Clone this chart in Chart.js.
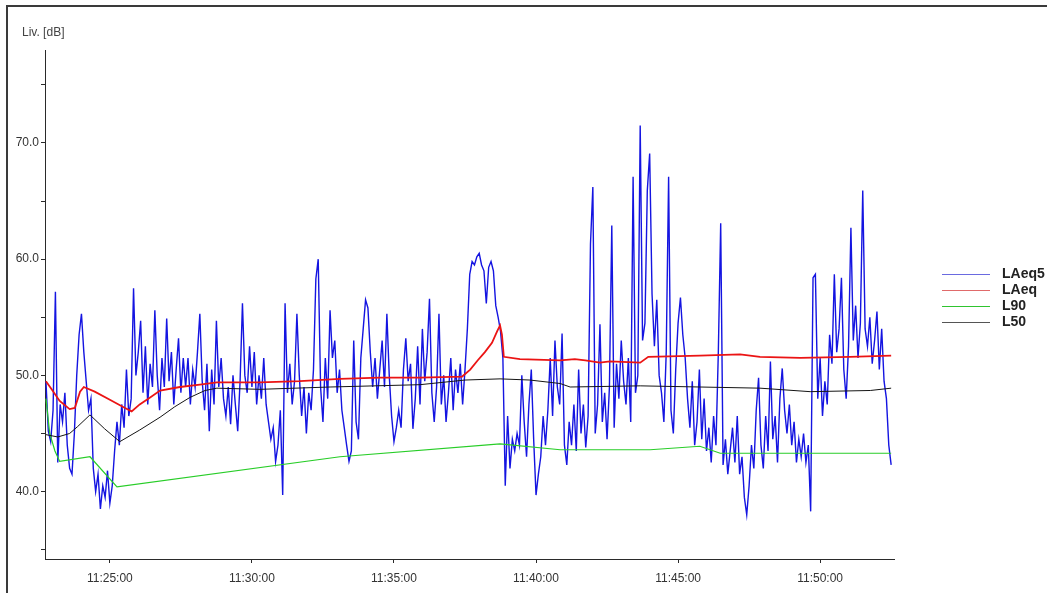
<!DOCTYPE html>
<html>
<head>
<meta charset="utf-8">
<script src="https://cdn.jsdelivr.net/npm/chart.js@4"></script>
<style>
  body { margin: 0; background: #fff; }
  #wrap { position: relative; width: 1047px; height: 593px; overflow: hidden; background: #fff; }
  #frame { position: absolute; left: 6px; top: 5px; width: 1100px; height: 600px;
           border-left: 2px solid #3a3a3a; border-top: 2px solid #3a3a3a; }
  #ytitle { position: absolute; left: 22px; top: 25px; font: 12px 'Liberation Sans', sans-serif; color: #444; }
  #legend { position: absolute; left: 942px; top: 265px; font: bold 14px 'Liberation Sans', sans-serif; color: #222; }
  #legend div { height: 16px; line-height: 16px; white-space: nowrap; }
  #legend span.ln { display: inline-block; width: 48px; height: 0; vertical-align: middle; margin-right: 12px; }
  canvas { position: absolute; left: 0; top: 0; }
</style>
</head>
<body>
<div id="wrap">
  <div id="frame"></div>
  <canvas id="noiseChart" width="1047" height="593"></canvas>
  <div id="ytitle">Liv. [dB]</div>
  <div id="legend"></div>
</div>
<script>
// ===============================
// data
// ===============================
// LAeq5: one value every 5 s, starting at 11:22:45
const laeq5Start = "11:22:45";
const laeq5Step = 5;
const laeq5 = [
  49.5, 45.2, 44.3, 47.0, 57.2,  42.5, 47.5, 46.0, 48.5, 44.0,
  42.0, 41.5, 45.0, 50.0, 53.5,  55.3, 52.0, 49.5, 47.0, 48.0,
  42.0, 40.0, 41.5, 38.5, 40.5,  39.5, 41.8, 39.0, 40.5, 43.5,
  46.0, 44.0, 47.5, 45.5, 50.5,  46.5, 48.0, 57.5, 50.0, 52.0,
  54.7, 48.5, 52.5, 47.5, 51.0,  49.0, 55.6, 50.0, 47.0, 51.5,
  49.0, 54.9, 49.5, 52.0, 47.5,  50.5, 53.2, 48.5, 51.5, 49.0,
  51.5, 47.5, 50.5, 49.0, 52.0,  55.3, 49.5, 47.0, 51.0, 45.2,
  50.5, 47.5, 54.7, 49.0, 51.5,  48.0, 46.5, 49.0, 45.8, 50.0,
  47.5, 45.2, 49.5, 56.2, 50.0,  48.5, 52.5, 49.0, 52.0, 47.5,
  50.0, 48.0, 51.5, 47.5, 46.0,  44.5, 45.5, 42.6, 44.0, 47.0,
  39.7, 56.2, 48.5, 51.0, 47.5,  49.5, 55.3, 50.0, 46.5, 49.0,
  45.0, 48.5, 47.0, 50.5, 58.3,  60.0, 49.0, 46.0, 51.5, 48.0,
  55.6, 51.5, 53.0, 48.5, 50.5,  47.0, 45.5, 44.0, 42.6, 43.5,
  53.0, 46.0, 44.5, 51.5, 54.0,  56.5, 55.8, 52.0, 49.0, 51.5,
  48.0, 50.5, 53.0, 49.0, 55.3,  50.0, 46.5, 44.3, 45.5, 47.0,
  45.5, 50.5, 53.2, 49.5, 51.0,  45.4, 48.0, 52.5, 47.5, 54.0,
  49.5, 52.0, 56.6, 48.5, 46.0,  49.0, 55.3, 47.5, 50.0, 46.0,
  48.5, 51.5, 47.0, 50.5, 48.5,  51.0, 47.5, 50.5, 54.0, 58.7,
  59.8, 59.5, 60.2, 60.5, 59.5,  59.0, 56.2, 59.3, 59.8, 59.0,
  56.0, 55.0, 53.8, 51.5, 40.5,  46.5, 42.0, 44.5, 43.5, 45.0,
  44.0, 50.0, 46.0, 43.0, 47.5,  50.5, 44.5, 39.7, 41.5, 43.0,
  46.5, 44.0, 47.0, 51.5, 46.5,  53.0, 49.0, 47.5, 53.6, 44.0,
  42.3, 46.0, 44.0, 47.5, 43.5,  50.5, 45.0, 47.5, 43.8, 46.5,
  61.3, 66.2, 45.0, 47.5, 54.4,  46.0, 48.5, 44.5, 49.0, 62.9,
  45.5, 51.0, 48.0, 53.0, 49.5,  47.5, 51.5, 46.0, 67.1, 48.5,
  50.0, 71.5, 53.0, 54.5, 65.9,  69.1, 57.0, 52.5, 56.5, 50.0,
  48.5, 46.0, 52.0, 67.1, 47.0,  45.0, 50.5, 54.5, 56.7, 53.5,
  51.5, 48.0, 45.5, 49.5, 44.0,  46.0, 50.5, 44.5, 48.0, 43.5,
  45.5, 42.5, 46.5, 44.0, 52.0,  63.1, 42.3, 44.5, 41.5, 43.5,
  45.5, 42.5, 46.5, 41.5, 43.0,  39.5, 38.0, 40.5, 44.0, 42.0,
  47.0, 49.8, 44.0, 42.0, 46.5,  43.5, 51.2, 44.5, 46.5, 42.5,
  48.0, 50.6, 47.0, 45.0, 47.5,  44.0, 46.0, 42.5, 44.5, 43.0,
  45.0, 42.5, 44.0, 38.3, 58.4,  58.7, 48.0, 51.5, 46.5, 49.5,
  47.5, 53.5, 51.0, 58.7, 52.0,  54.0, 58.4, 50.5, 48.0, 52.5,
  62.7, 53.0, 56.0, 51.5, 54.5,  65.9, 54.0, 52.5, 55.0, 51.0,
  53.0, 55.5, 50.5, 54.0, 49.5,  48.0, 44.0, 42.3
];

// LAeq (running average)
const laeqTimes = [
  "11:22:45", "11:22:57", "11:23:14", "11:23:35", "11:23:46", "11:23:57", "11:24:05", "11:24:28",
  "11:25:00", "11:25:32", "11:25:46", "11:26:03", "11:26:25", "11:26:46", "11:27:28", "11:28:10",
  "11:28:46", "11:30:17", "11:31:41", "11:33:06", "11:34:30", "11:35:55", "11:37:24", "11:37:41",
  "11:37:57", "11:38:12", "11:38:27", "11:38:38", "11:38:44", "11:38:48", "11:38:52", "11:39:26",
  "11:40:51", "11:41:22", "11:41:44", "11:42:15", "11:42:36", "11:43:40", "11:43:57", "11:45:46",
  "11:47:11", "11:47:53", "11:49:18", "11:51:03", "11:52:30"
];
const laeq = [
  49.5, 48.8, 47.8, 47.1, 47.2, 48.6, 49.0, 48.6,
  47.9, 47.2, 46.9, 47.5, 48.1, 48.7, 49.0, 49.2,
  49.4, 49.4, 49.5, 49.7, 49.8, 49.8, 49.9, 50.5,
  51.3, 52.0, 52.8, 53.8, 54.3, 53.5, 51.6, 51.4,
  51.3, 51.4, 51.3, 51.1, 51.2, 51.1, 51.6, 51.7,
  51.8, 51.6, 51.5, 51.6, 51.7
];

// L50
const l50Times = [
  "11:22:45", "11:23:10", "11:23:35", "11:23:52", "11:24:18", "11:24:49", "11:25:21", "11:26:03",
  "11:26:46", "11:27:17", "11:27:49", "11:28:21", "11:28:46", "11:30:17", "11:32:45", "11:35:55",
  "11:37:30", "11:38:44", "11:39:47", "11:40:51", "11:41:12", "11:43:40", "11:45:46", "11:47:53",
  "11:49:39", "11:51:46", "11:52:30"
];
const l50 = [
  44.9, 44.7, 45.0, 45.6, 46.6, 45.4, 44.3, 45.3,
  46.4, 47.3, 48.1, 48.7, 48.9, 48.8, 49.0, 49.2,
  49.6, 49.7, 49.6, 49.3, 49.0, 49.1, 49.0, 48.9,
  48.6, 48.7, 48.9
];

// L90
const l90Times = [
  "11:22:45", "11:22:53", "11:23:04", "11:23:14", "11:24:18", "11:25:15", "11:33:06",
  "11:38:44", "11:40:51", "11:44:01", "11:45:46", "11:46:29", "11:52:30"
];
const l90 = [48.0, 45.0, 43.5, 42.6, 43.0, 40.4, 43.0, 44.1, 43.6, 43.6, 43.9, 43.3, 43.3];

const yTicks = [35, 40, 45, 50, 55, 60, 65, 70, 75];
const xTicks = ["11:25:00", "11:30:00", "11:35:00", "11:40:00", "11:45:00", "11:50:00"];
const xFrom = "11:22:43";
const xTo = "11:52:36";

// ===============================
// helpers
// ===============================
function toSec(t) {
  const p = t.split(":").map(Number);
  return p[0] * 3600 + p[1] * 60 + p[2];
}
function toClock(s) {
  const h = Math.floor(s / 3600), m = Math.floor((s % 3600) / 60), sec = s % 60;
  return h + ":" + String(m).padStart(2, "0") + ":" + String(sec).padStart(2, "0");
}
function pairs(times, vals) {
  return vals.map((v, i) => ({ x: toSec(times[i]), y: v }));
}

const t0 = toSec(laeq5Start);
const laeq5Points = laeq5.map((v, i) => ({ x: t0 + i * laeq5Step, y: v }));

const series = [
  { label: "LAeq5", data: laeq5Points, color: "rgb(20,20,225)", legend: "#6a6ae0", width: 1.4, order: 4 },
  { label: "LAeq", data: pairs(laeqTimes, laeq), color: "rgb(235,20,20)", legend: "#e06a6a", width: 1.8, order: 1 },
  { label: "L90", data: pairs(l90Times, l90), color: "rgb(40,205,40)", legend: "#2fc42f", width: 1.2, order: 3 },
  { label: "L50", data: pairs(l50Times, l50), color: "rgb(20,20,20)", legend: "#555", width: 1, order: 2 }
];

const fontFam = "'Liberation Sans', sans-serif";

// ===============================
// chart
// ===============================
new Chart(document.getElementById("noiseChart"), {
  type: "line",
  data: {
    datasets: series.map(s => ({
      label: s.label,
      data: s.data,
      borderColor: s.color,
      borderWidth: s.width,
      pointRadius: 0,
      tension: 0,
      fill: false,
      order: s.order
    }))
  },
  options: {
    responsive: false,
    animation: false,
    devicePixelRatio: 1,
    layout: { padding: { top: 50, right: 153, bottom: 0, left: 0 } },
    plugins: { legend: { display: false }, tooltip: { enabled: false } },
    scales: {
      x: {
        type: "linear",
        min: toSec(xFrom),
        max: toSec(xTo),
        afterBuildTicks: s => { s.ticks = xTicks.map(t => ({ value: toSec(t) })); },
        afterFit: s => { s.height = 34; },
        border: { display: true, color: "#2a2a2a", width: 1 },
        grid: { drawOnChartArea: false, drawTicks: true, tickLength: 4, color: "#2a2a2a" },
        ticks: {
          padding: 8,
          maxRotation: 0,
          color: "#333",
          font: { family: fontFam, size: 12 },
          callback: v => toClock(v)
        }
      },
      y: {
        min: 34.2,
        max: 78,
        afterBuildTicks: s => { s.ticks = yTicks.map(v => ({ value: v })); },
        afterFit: s => { s.width = 45; },
        border: { display: true, color: "#2a2a2a", width: 1 },
        grid: { drawOnChartArea: false, drawTicks: true, tickLength: 4, color: "#2a2a2a" },
        ticks: {
          padding: 2,
          color: "#333",
          font: { family: fontFam, size: 12 },
          callback: v => (v % 10 === 0 ? v.toFixed(1) : "")
        }
      }
    }
  }
});

// legend box on the right
const legend = document.getElementById("legend");
series.forEach(s => {
  legend.innerHTML += `<div><span class="ln" style="border-top:1.5px solid ${s.legend}"></span>${s.label}</div>`;
});
</script>
</body>
</html>
